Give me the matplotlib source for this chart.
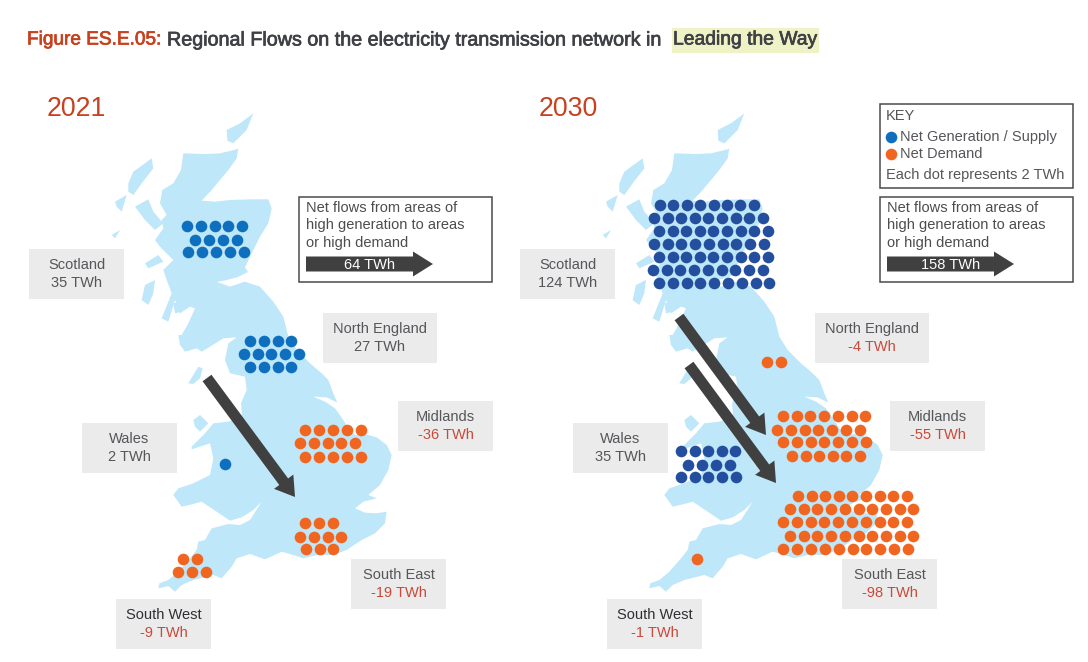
import matplotlib
matplotlib.use("Agg")
import matplotlib.pyplot as plt
import matplotlib.patheffects as pe
from matplotlib.patches import Polygon, Rectangle, FancyArrow

# ---------- data ----------
regions = ["Scotland", "North England", "Wales", "Midlands", "South East", "South West"]
twh_2021 = [35, 27, 2, -36, -19, -9]
twh_2030 = [124, -4, 35, -55, -98, -1]
total_flow_2021 = 64
total_flow_2030 = 158
dots_2021 = {"Scotland": [5, 4, 5], "North England": [4, 5, 4], "Wales": [1],
             "Midlands": [5, 5, 5], "South East": [3, 4, 3], "South West": [2, 3]}
dots_2030 = {"Scotland": [8, 9, 9, 9, 9, 9, 9], "North England": [2], "Wales": [5, 4, 5],
             "Midlands": [7, 7, 7, 6], "South East": [9, 10, 10, 10, 10], "South West": [1]}

# ---------- layout (pixel space of the 1088x662 figure) ----------
C_LAND = "#BEE7F9"; C_BOX = "#EBEBEB"; C_DARK = "#404040"; C_TXT = "#55565A"
C_RED = "#C8401E"; C_NEG = "#C9493A"; C_ORANGE = "#F0651F"
C_BLUE21 = "#0E6FBE"; C_BLUE30 = "#234F9E"
FONT = "Liberation Sans"
MAP_DX = 491
DOT_S = 70

# row layout: (x of first dot, dot spacing, y) for every row
rows_2021 = {
    "Scotland": [(187, 13.8, 226), (195, 13.9, 240), (188, 13.9, 252)],
    "North England": [(250, 13.8, 341), (244, 13.7, 354), (250, 13.8, 367)],
    "Wales": [(225, 0, 464)],
    "Midlands": [(305, 13.9, 430), (300, 13.8, 443), (305, 13.9, 457)],
    "South East": [(305, 13.8, 523), (300, 13.8, 537), (306, 13.6, 549)],
    "South West": [(183, 14, 559), (178, 14, 572)],
}
rows_2030 = {
    "Scotland": [(660, 13.4, 205), (654, 13.6, 218), (659, 13.6, 231), (654, 13.7, 244),
                 (659, 13.6, 257), (653, 13.7, 270), (659, 13.8, 283)],
    "North England": [(767, 13.5, 362)],
    "Wales": [(681, 13.6, 451), (688, 13.9, 465), (681, 13.7, 477)],
    "Midlands": [(783, 13.7, 416), (777, 13.8, 430), (783, 13.8, 442), (792, 13.6, 456)],
    "South East": [(798, 13.6, 496), (790, 13.7, 509), (783, 13.8, 522), (790, 13.7, 536), (783, 13.9, 549)],
    "South West": [(697, 0, 559)],
}
boxes_2021 = {"Scotland": (29, 249), "North England": (323, 313), "Wales": (82, 423),
              "Midlands": (398, 401), "South East": (351, 559), "South West": (116, 599)}
boxes_2030 = {"Scotland": (520, 249), "North England": (815, 313), "Wales": (573, 423),
              "Midlands": (890, 401), "South East": (842, 559), "South West": (607, 599)}
box_w = {"North England": 114}
arrows_2021 = [((207, 378), (295, 497))]
arrows_2030 = [((679, 317), (766, 435)), ((689, 365), (776, 483))]


# outline traced on the 2021 map: each list is in its own 3x crop frame
def F(points, x0, y0):
    return [(x0 + px / 3, y0 + py / 3) for px, py in points]


ne_coast = F([(400,25),(395,55),(370,90),(345,120),(320,150),(290,182),(330,185),(375,180),(440,178),(490,178),
              (500,205),(490,250),(465,290),(440,340),(420,382)], 105, 140)
forth = F([(354,36),(324,51),(291,60),(261,66),(300,80),(345,65),(390,80),(430,125),(460,170),(475,230)], 130, 260)
north_sea = F([(890,810),(930,850),(965,880)], 0, 80)
east_eng = F([(985,60),(1000,100),(1012,128),(980,112),(940,110),(975,125),(1005,145),(1030,180),(1045,205),(1065,225),
              (1095,222),(1130,232),(1160,255),(1175,285),(1165,330),(1140,375),(1105,405),(1130,415),(1090,425),(1065,445),
              (1095,458),(1130,460),(1160,455)], 0, 360)
south_coast = F([(705,70),(675,100),(635,120),(590,150),(550,165),(500,165),(460,175),(430,165),(395,155),(345,178),
                 (300,162),(260,175),(245,200),(215,235),(190,225),(130,240),(95,255),(75,275),(55,258),(25,265),
                 (28,250),(55,240),(85,215),(120,175),(140,150),(145,125),(165,120),(185,85),(235,72),(270,75),
                 (300,60),(335,5),(310,30),(275,52),(240,62),(200,35),(155,5)], 150, 500)
wales = F([(130,312),(95,320),(70,285),(85,265),(130,250),(180,225),(190,175),(180,130),(125,148),(125,140),
           (165,100),(190,70),(235,65),(262,55),(276,45),(273,10)], 150, 400)
nw_coast = F([(350,390),(345,350),(300,340),(285,300),(295,250),(320,232),(280,235),(240,260),(215,275),(200,265),
              (165,275),(150,255),(145,225),(155,225),(175,190),(195,145),(180,140),(150,160),(135,120),(115,185),
              (95,175),(125,100),(110,60),(100,30),(130,0)], 130, 260)
highlands = F([(190,345),(165,320),(150,300),(175,265),(170,240),(185,225),(165,190),(172,150),(205,130),(228,90),
               (235,40),(300,42),(345,40),(395,28)], 105, 140)
land = ne_coast + forth + north_sea + east_eng + south_coast + wales + nw_coast + highlands
island_shapes = [
    F([(70,130),(85,95),(140,55),(145,85),(110,130),(85,165),(70,155)], 105, 140),
    F([(30,185),(65,165),(50,215),(35,200)], 105, 140),
    F([(20,285),(45,270),(30,295)], 105, 140),
    F([(90,200),(130,178),(145,215),(175,250),(150,270),(120,240)], 105, 140),
    F([(120,370),(160,345),(175,365),(130,385)], 105, 140),
    F([(35,120),(45,75),(75,60),(70,100),(55,135)], 130, 260),
    F([(130,130),(150,125),(155,155),(135,160)], 130, 260),
    F([(175,370),(205,320),(218,325),(210,355),(190,372)], 130, 260),
    F([(130,60),(150,45),(175,70),(150,95),(135,80)], 150, 400),
    F([(680,150),(720,130),(760,100),(740,150),(700,190),(682,182)], 0, 80),
]

fig = plt.figure(figsize=(10.88, 6.62), dpi=100, facecolor="white")
ax = fig.add_axes([0, 0, 1, 1])
ax.set_xlim(0, 1088); ax.set_ylim(662, 0); ax.axis("off")


def fmt(v):
    return f"{v} TWh"


def text(x, y, s, **kw):
    kw.setdefault("family", FONT); kw.setdefault("color", C_TXT)
    kw.setdefault("fontsize", 10.5); kw.setdefault("va", "center")
    return ax.text(x, y, s, **kw)


def flow_box(x0, y0, total):
    ax.add_patch(Rectangle((x0, y0), 193, 85, fc="white", ec="#4A4A4A", lw=1.1, zorder=2))
    for i, line in enumerate(["Net flows from areas of", "high generation to areas", "or high demand"]):
        text(x0 + 7, y0 + 11 + i * 17.5, line, color="#4D4D4F", zorder=3)
    ax.add_patch(FancyArrow(x0 + 7, y0 + 67, 127, 0, width=15, head_width=25, head_length=20,
                            length_includes_head=True, fc=C_DARK, ec="none", zorder=3))
    text(x0 + 71, y0 + 68, fmt(total), color="white", ha="center", zorder=4)


def draw_map(dx, year, vals, dots, rows, boxes, arrows, blue, year_x):
    ax.add_patch(Polygon([(x + dx, y) for x, y in land], closed=True, fc=C_LAND, ec="none", zorder=1))
    for s in island_shapes:
        ax.add_patch(Polygon([(x + dx, y) for x, y in s], closed=True, fc=C_LAND, ec="none", zorder=1))
    text(year_x, 109, year, color=C_RED, fontsize=19.2)
    for name, v in zip(regions, vals):
        color = blue if v > 0 else C_ORANGE
        xs, ys = [], []
        for n, (x0, step, y) in zip(dots[name], rows[name]):
            xs += [x0 + i * step for i in range(n)]
            ys += [y] * n
        ax.scatter(xs, ys, s=DOT_S, color=color, lw=0, zorder=3)
        bx, by = boxes[name]
        w = box_w.get(name, 95)
        ax.add_patch(Rectangle((bx, by), w, 49.5, fc=C_BOX, ec="none", zorder=2))
        name_color = "#2E2E33" if name == "South West" else C_TXT
        text(bx + w / 2, by + 16, name, ha="center", color=name_color, zorder=3)
        text(bx + w / 2, by + 34, fmt(v), ha="center", color=C_NEG if v < 0 else C_TXT, zorder=3)
    for (x0, y0), (x1, y1) in arrows:
        ax.add_patch(FancyArrow(x0, y0, x1 - x0, y1 - y0, width=11, head_width=24, head_length=19,
                                length_includes_head=True, fc=C_DARK, ec="none", zorder=4))


draw_map(0, "2021", twh_2021, dots_2021, rows_2021, boxes_2021, arrows_2021, C_BLUE21, 47)
draw_map(MAP_DX, "2030", twh_2030, dots_2030, rows_2030, boxes_2030, arrows_2030, C_BLUE30, 539)

flow_box(299, 197, total_flow_2021)
flow_box(880, 197, total_flow_2030)

# key
ax.add_patch(Rectangle((880, 104), 193, 84, fc="white", ec="#4A4A4A", lw=1.1, zorder=2))
text(886, 116, "KEY", zorder=3)
ax.scatter([891], [137], s=DOT_S, color=C_BLUE21, lw=0, zorder=3)
ax.scatter([891], [154], s=DOT_S, color=C_ORANGE, lw=0, zorder=3)
text(900, 137, "Net Generation / Supply", zorder=3)
text(900, 154, "Net Demand", zorder=3)
text(886, 175, "Each dot represents 2 TWh", zorder=3)

# title
stroke = [pe.withStroke(linewidth=0.5, foreground=None)]
ax.add_patch(Rectangle((672, 28), 147, 25, fc="#EEF2C4", ec="none", zorder=1))
text(27, 40, "Figure ES.E.05:", color=C_RED, fontsize=13.7, zorder=3,
     path_effects=[pe.withStroke(linewidth=0.5, foreground=C_RED)])
text(167, 40, "Regional Flows on the electricity transmission network in", color="#3F4045",
     fontsize=14.2, zorder=3, path_effects=[pe.withStroke(linewidth=0.5, foreground="#3F4045")])
text(673, 40, "Leading the Way", color="#3F4045", fontsize=13.9, zorder=3,
     path_effects=[pe.withStroke(linewidth=0.5, foreground="#3F4045")])

fig.savefig("out.png", dpi=100, facecolor="white")
